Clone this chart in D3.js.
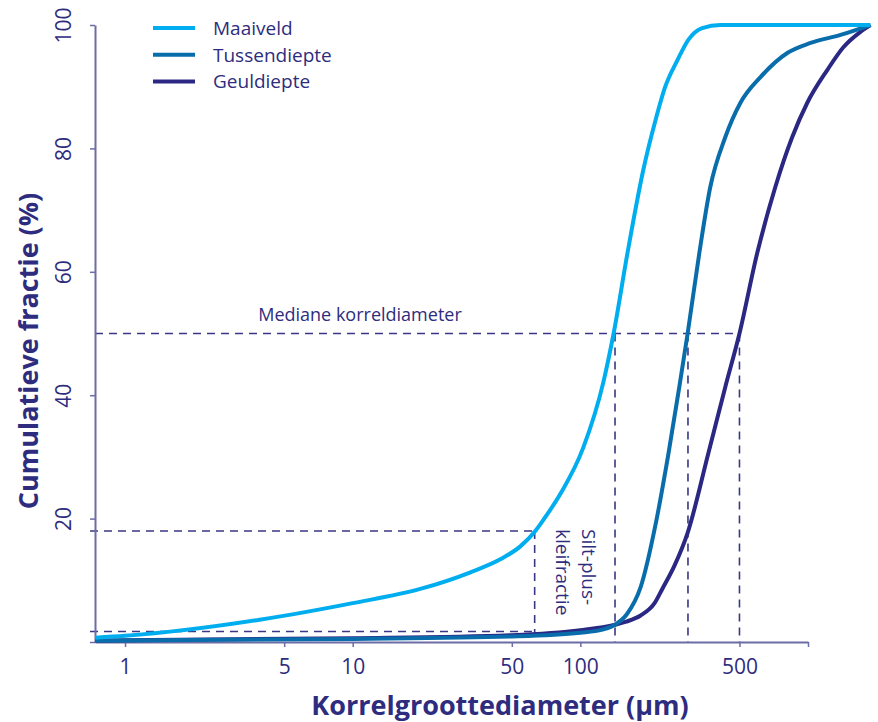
<!DOCTYPE html>
<html>
<head>
<meta charset="utf-8">
<script src="https://cdn.jsdelivr.net/npm/d3@7"></script>
<style>
  body { margin: 0; background: #fff; }
  text { font-family: "Open Sans", sans-serif; fill: #2e2c7e; }
</style>
</head>
<body>
<svg></svg>
<script>
const width = 878;
const height = 722;

// grain size (µm) and cumulative fraction (%) per sample
const maaiveldSize = [0.74, 1, 3.9, 10, 19.8, 32.9, 44.5, 54.5, 63.4, 68.8, 82, 103, 126, 140, 161, 189, 214, 236, 267, 298, 343, 412, 1880];
const maaiveldPct = [0.7, 1.0, 3.6, 6.3, 8.6, 11.3, 13.4, 15.5, 18, 19.8, 24.1, 31.5, 42, 50, 63, 76.5, 84.6, 90, 94.3, 97.6, 99.5, 100, 100];

const tussenSize = [0.74, 1, 10, 50, 100, 125, 142, 160, 184, 216, 244, 272, 296, 333, 372, 433, 505, 620, 814, 1027, 1390, 1880];
const tussenPct = [0.2, 0.25, 0.5, 0.9, 1.5, 2.0, 2.8, 4.5, 8.9, 19.8, 30.6, 41.3, 50, 63, 73.7, 81.8, 87.4, 91.6, 95.5, 97.1, 98.4, 100];

const geulSize = [0.74, 1, 10, 50, 100, 142, 159, 184, 211, 229, 260, 296, 365, 433, 500, 598, 718, 852, 993, 1215, 1430, 1700, 1880];
const geulPct = [0.2, 0.3, 0.6, 1.1, 1.9, 2.8, 3.3, 4.3, 6.2, 8.6, 12.5, 17.7, 30.6, 41.3, 50, 63, 73.7, 81.8, 87.4, 92.7, 96.4, 98.9, 100];

const seriesNames = ["Maaiveld", "Tussendiepte", "Geuldiepte"];
const seriesColors = ["#00aeef", "#0a6dab", "#2b2883"];

const xTicks = [1, 5, 10, 50, 100, 500, 1000];
const xTickLabels = ["1", "5", "10", "50", "100", "500", ""];
const yTicks = [0, 20, 40, 60, 80, 100];
const yTickLabels = ["", "20", "40", "60", "80", "100"];

const medians = [142, 297, 500];
const siltLimit = 63;
const siltFractions = [18, 1.7];

const series = [
  { name: seriesNames[0], color: seriesColors[0], values: maaiveldSize.map((d, i) => ({ size: d, pct: maaiveldPct[i] })) },
  { name: seriesNames[1], color: seriesColors[1], values: tussenSize.map((d, i) => ({ size: d, pct: tussenPct[i] })) },
  { name: seriesNames[2], color: seriesColors[2], values: geulSize.map((d, i) => ({ size: d, pct: geulPct[i] })) },
];

const svg = d3.select("svg").attr("width", width).attr("height", height);

const x = d3.scaleLog().domain([0.738, 1000]).range([95, 808]);
const y = d3.scaleLinear().domain([0, 100]).range([642, 25]);

const axisColor = "#6c6ca6";
const dashColor = "#3a3785";

// dashed guide lines
const guides = svg.append("g")
  .attr("stroke", dashColor)
  .attr("stroke-width", 1.6)
  .attr("stroke-dasharray", "8,6")
  .attr("fill", "none");

guides.append("line")
  .attr("x1", x.range()[0]).attr("x2", x(d3.max(medians)))
  .attr("y1", y(50)).attr("y2", y(50));

guides.selectAll(".med")
  .data(medians)
  .enter()
  .append("line")
  .attr("x1", (d) => x(d)).attr("x2", (d) => x(d))
  .attr("y1", y(50)).attr("y2", y(0));

guides.selectAll(".silt")
  .data(siltFractions)
  .enter()
  .append("line")
  .attr("x1", x.range()[0] - 5).attr("x2", x(siltLimit))
  .attr("y1", (d) => y(d)).attr("y2", (d) => y(d));

guides.append("line")
  .attr("x1", x(siltLimit)).attr("x2", x(siltLimit))
  .attr("y1", y(siltFractions[0])).attr("y2", y(0));

// axes
const xAxis = svg.append("g")
  .attr("transform", `translate(0,${y(0)})`)
  .call(d3.axisBottom(x).tickValues(xTicks).tickFormat((d, i) => xTickLabels[i]).tickSize(5).tickSizeOuter(0).tickPadding(12));

const yAxis = svg.append("g")
  .attr("transform", `translate(${x.range()[0]},0)`)
  .call(d3.axisLeft(y).tickValues(yTicks).tickFormat((d, i) => yTickLabels[i]).tickSize(5).tickSizeOuter(0));

[xAxis, yAxis].forEach((a) => {
  a.select(".domain").attr("stroke", axisColor).attr("stroke-width", 2);
  a.selectAll(".tick line").attr("stroke", axisColor).attr("stroke-width", 1.5);
  a.selectAll("text").attr("font-size", 21).attr("fill", "#2e2c7e")
    .attr("font-family", "Open Sans, sans-serif");
});

yAxis.selectAll(".tick text")
  .attr("x", null).attr("dy", null)
  .attr("text-anchor", "middle")
  .attr("transform", "translate(-24,0) rotate(-90)");

// curves
const line = d3.line()
  .x((d) => x(d.size))
  .y((d) => y(d.pct))
  .curve(d3.curveMonotoneX);

svg.selectAll(".curve")
  .data(series.slice().reverse())
  .enter()
  .append("path")
  .attr("class", "curve")
  .attr("d", (d) => line(d.values))
  .attr("fill", "none")
  .attr("stroke", (d) => d.color)
  .attr("stroke-width", 4)
  .attr("stroke-linejoin", "round");

// legend
const legend = svg.append("g").attr("transform", "translate(153,28)");
const item = legend.selectAll("g")
  .data(series)
  .enter()
  .append("g")
  .attr("transform", (d, i) => `translate(0,${i * 26.7})`);
item.append("line")
  .attr("x1", 0).attr("x2", 42)
  .attr("stroke", (d) => d.color)
  .attr("stroke-width", 4);
item.append("text")
  .attr("x", 60).attr("y", 7)
  .attr("font-size", 19)
  .text((d) => d.name);

// annotations
svg.append("text")
  .attr("x", 360).attr("y", 321)
  .attr("text-anchor", "middle")
  .attr("font-size", 18)
  .text("Mediane korreldiameter");

svg.append("text")
  .attr("transform", "translate(582,529) rotate(90)")
  .attr("font-size", 19)
  .text("Silt-plus-");
svg.append("text")
  .attr("transform", "translate(556,529) rotate(90)")
  .attr("font-size", 19)
  .text("kleifractie");

// axis titles
svg.append("text")
  .attr("x", 500).attr("y", 715)
  .attr("text-anchor", "middle")
  .attr("font-size", 27)
  .attr("font-weight", "bold")
  .text("Korrelgroottediameter (µm)");

svg.append("text")
  .attr("transform", "translate(38,351) rotate(-90)")
  .attr("text-anchor", "middle")
  .attr("font-size", 27)
  .attr("font-weight", "bold")
  .text("Cumulatieve fractie (%)");
</script>
</body>
</html>
